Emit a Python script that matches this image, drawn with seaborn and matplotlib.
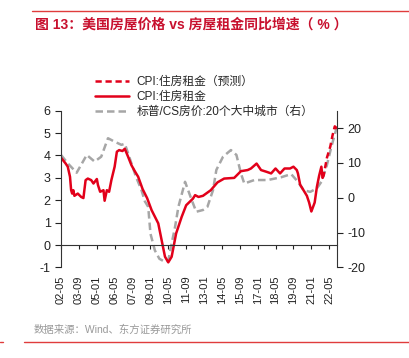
import numpy as np
import pandas as pd
import seaborn as sns
import matplotlib.pyplot as plt
from matplotlib.lines import Line2D

# CPI: 住房租金 (left axis, %)
rent_dates = ["2002-05", "2002-09", "2002-11", "2003-01", "2003-02", "2003-03", "2003-04", "2003-05",
              "2003-08", "2003-11", "2004-01", "2004-03", "2004-05", "2004-08", "2004-10", "2005-01",
              "2005-02", "2005-04", "2005-07", "2005-08", "2005-10", "2005-12", "2006-02", "2006-05",
              "2006-07", "2006-09", "2006-12", "2007-02", "2007-05", "2007-08", "2007-11", "2008-02",
              "2008-06", "2008-10", "2009-02", "2009-08", "2009-11", "2010-02", "2010-05", "2010-08",
              "2010-12", "2011-05", "2011-09", "2012-03", "2012-05", "2012-08", "2012-12", "2013-07",
              "2014-01", "2014-07", "2015-04", "2015-10", "2016-04", "2016-07", "2016-12", "2017-04",
              "2017-09", "2018-01", "2018-05", "2018-09", "2019-01", "2019-06", "2019-09", "2019-12",
              "2020-01", "2020-03", "2020-06", "2020-09", "2020-11", "2021-01", "2021-04", "2021-06",
              "2021-08", "2021-10", "2021-11"]
rent_values = [3.9, 3.65, 3.5, 3.05, 2.45, 2.3, 2.45, 2.2,
               2.3, 2.15, 2.1, 2.9, 2.97, 2.9, 2.75, 2.95,
               2.68, 2.38, 2.45, 1.98, 2.45, 2.38, 2.9, 3.5,
               4.17, 4.24, 4.2, 4.3, 3.95, 3.57, 3.3, 3.05,
               2.5, 2.1, 1.56, 0.97, 0.22, -0.52, -0.77, -0.52,
               0.52, 1.26, 1.78, 2.07, 2.23, 2.15, 2.2, 2.45,
               2.8, 2.97, 3.0, 3.3, 3.35, 3.42, 3.64, 3.35,
               3.27, 3.2, 3.42, 3.2, 3.42, 3.42, 3.5, 3.35,
               3.2, 2.7, 2.45, 2.2, 1.9, 1.5, 1.9, 2.6,
               3.1, 3.5, 3.0]

# CPI: 住房租金（预测）
fcst_dates = ["2021-11", "2021-12", "2022-03", "2022-06", "2022-08", "2022-10", "2022-12"]
fcst_values = [3.0, 3.1, 3.9, 4.4, 4.9, 5.3, 5.2]

# 标普/CS房价: 20个大中城市 (right axis, %)
cs_dates = ["2002-05", "2002-11", "2003-07", "2004-04", "2004-11", "2005-05", "2005-11", "2006-05",
            "2006-11", "2007-02", "2007-03", "2007-08", "2007-12", "2008-05", "2008-08", "2008-11",
            "2009-01", "2009-05", "2009-09", "2010-02", "2010-05", "2010-08", "2010-11", "2011-02",
            "2011-08", "2012-02", "2012-06", "2012-12", "2013-04", "2013-09", "2013-12", "2014-06",
            "2015-01", "2015-06", "2015-10", "2016-01", "2016-10", "2017-10", "2018-10", "2019-07",
            "2020-01", "2020-06", "2020-12", "2021-06", "2021-10", "2022-03", "2022-07", "2022-12"]
cs_values = [12.3, 9.9, 7.2, 12.3, 10.4, 11.8, 17.1, 16.1,
             15.2, 15.5, 14.7, 9.9, 6.1, 2.2, -1.0, -2.6,
             -10.3, -15.1, -17.5, -18.4, -18.0, -13.1, -8.4, -2.6,
             4.6, -0.7, -4.0, -3.5, -2.6, 2.2, 8.0, 11.8,
             13.7, 12.3, 7.0, 4.1, 5.1, 5.1, 5.9, 6.8,
             4.6, 2.2, 1.7, 2.7, 4.6, 9.4, 14.7, 20.5]

tick_labels = ["02-05", "03-09", "05-01", "06-05", "07-09", "09-01", "10-05", "11-09",
               "13-01", "14-05", "15-09", "17-01", "18-05", "19-09", "21-01", "22-05"]

RED = "#E2001A"
GREY = "#A6A6A6"

sns.set_theme(style="ticks")
plt.rcParams["font.family"] = ["Liberation Sans", "Noto Sans CJK SC", "DejaVu Sans"]
plt.rcParams["axes.unicode_minus"] = False

fig = plt.figure(figsize=(4.10, 3.58), dpi=100)
ax = fig.add_axes([0.1488, 0.2528, 0.8220 - 0.1488, 0.6908 - 0.2528])
ax2 = ax.twinx()

sns.lineplot(x=pd.to_datetime(cs_dates), y=cs_values, ax=ax2, color=GREY, lw=1.8,
             linestyle=(0, (3, 1.6)), label="标普/CS房价:20个大中城市（右）")
sns.lineplot(x=pd.to_datetime(rent_dates), y=rent_values, ax=ax, color=RED, lw=1.8,
             label="CPI:住房租金")
sns.lineplot(x=pd.to_datetime(fcst_dates), y=fcst_values, ax=ax, color=RED, lw=1.8,
             linestyle=(0, (2.5, 1.5)), label="CPI:住房租金（预测）")
ax.set_zorder(ax2.get_zorder() + 1)
ax.patch.set_visible(False)
for a in (ax, ax2):
    if a.get_legend() is not None:
        a.get_legend().remove()
    a.set_xlabel("")
    a.set_ylabel("")

ax.set_xlim(pd.Timestamp("2002-05-01"), pd.Timestamp("2022-12-01"))
ax.set_ylim(-1, 6)
ax2.set_ylim(-20, 25)
ax.set_yticks(range(-1, 7))
ax2.set_yticks(range(-20, 21, 10))

ax.set_xticks(pd.to_datetime(["20" + t for t in tick_labels]))
ax.set_xticklabels(tick_labels)
ax.spines["bottom"].set_position(("data", 0))
ax.tick_params(axis="x", length=3, width=0.8, pad=19, direction="out",
               labelrotation=90, labelsize=8, colors="#222222")
ax.tick_params(axis="y", labelsize=9, length=4, width=0.8, colors="#222222")
ax2.tick_params(axis="y", labelsize=9, length=4, width=0.8, colors="#222222")
for a in (ax, ax2):
    a.spines["top"].set_visible(False)
    for s in a.spines.values():
        s.set_color("#333333")
        s.set_linewidth(0.8)
ax.spines["right"].set_visible(False)
ax2.spines["bottom"].set_visible(False)
ax2.spines["left"].set_visible(False)

handles = [Line2D([], [], color=RED, lw=1.8, linestyle=(0, (2.5, 1.5))),
           Line2D([], [], color=RED, lw=1.8),
           Line2D([], [], color=GREY, lw=1.8, linestyle=(0, (3, 1.6)))]
labels = ["CPI:住房租金（预测）", "CPI:住房租金", "标普/CS房价:20个大中城市（右）"]
fig.legend(handles, labels, loc="upper left", bbox_to_anchor=(0.232, 0.788), frameon=False,
           fontsize=8.5, handlelength=2.9, handletextpad=0.6, labelspacing=0.25,
           borderaxespad=0, borderpad=0)

fig.text(0.085, 0.932, "图 13：美国房屋价格 vs 房屋租金同比增速（ % ）", color="#C8102E",
         fontsize=10, fontweight="bold", va="center")
fig.text(0.083, 0.080, "数据来源：Wind、东方证券研究所", color="#999999", fontsize=7.5, va="center")
fig.add_artist(Line2D([0.078, 1.0], [0.969, 0.969], color="#E03C3C", lw=1.0))
fig.add_artist(Line2D([0.058, 1.0], [0.045, 0.045], color="#E03C3C", lw=1.0))
fig.add_artist(Line2D([0.0, 0.008], [0.045, 0.045], color="#E03C3C", lw=1.0))

fig.savefig("out.png", dpi=100)
